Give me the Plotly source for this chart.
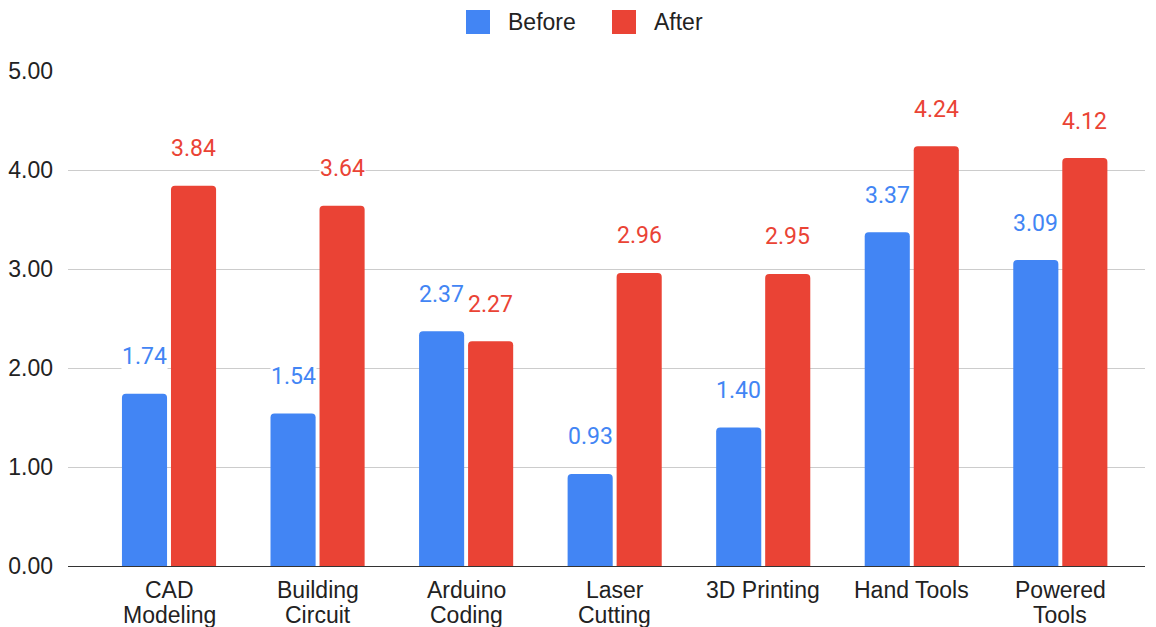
import plotly.graph_objects as go

categories = ["CAD<br>Modeling", "Building<br>Circuit", "Arduino<br>Coding", "Laser<br>Cutting",
              "3D Printing", "Hand Tools", "Powered<br>Tools"]
before = [1.74, 1.54, 2.37, 0.93, 1.40, 3.37, 3.09]
after = [3.84, 3.64, 2.27, 2.96, 2.95, 4.24, 4.12]
series_names = ["Before", "After"]
y_ticks = [0, 1, 2, 3, 4, 5]

BLUE = "#4285F4"
RED = "#EA4335"
AX_FONT = "Liberation Sans, Arial, sans-serif"
LBL_FONT = "Roboto"
AX_FS = 23
LBL_FS = 23
TXT = "#222222"

W, H = 1156, 627
ML, MR, MT, MB = 68, 11, 71, 61
PW = W - ML - MR
PH = H - MT - MB

fig = go.Figure()
for name, vals, col in [(series_names[0], before, BLUE), (series_names[1], after, RED)]:
    fig.add_trace(go.Bar(name=name, x=categories, y=vals, marker_color=col,
                         marker_line_width=0, showlegend=False))

# value labels with white background
shift = 24.5
for vals, col, xs in [(before, BLUE, -shift), (after, RED, shift)]:
    for c, v in zip(categories, vals):
        fig.add_annotation(x=c, y=v, text=f"{v:.2f}", showarrow=False, xshift=xs, yshift=37,
                           yanchor="middle", bgcolor="white", borderpad=0,
                           font=dict(family=LBL_FONT, size=LBL_FS, color=col))

# category labels (two lines with tighter spacing)
for c in categories:
    for i, line in enumerate(c.split("<br>")):
        fig.add_annotation(x=c, y=0, text=line, showarrow=False, yanchor="middle",
                           yshift=-24 - 25 * i,
                           font=dict(family=AX_FONT, size=AX_FS, color=TXT))

# custom legend
def px_to_paper_x(px):
    return (px - ML) / PW

def px_to_paper_y(py):
    return (MT + PH - py) / PH

legend_items = [(series_names[0], BLUE, 466), (series_names[1], RED, 612)]
for name, col, x0 in legend_items:
    fig.add_shape(type="rect", xref="paper", yref="paper",
                  x0=px_to_paper_x(x0), x1=px_to_paper_x(x0 + 24),
                  y0=px_to_paper_y(34), y1=px_to_paper_y(10),
                  fillcolor=col, line_width=0, layer="above")
    fig.add_annotation(xref="paper", yref="paper", x=px_to_paper_x(x0 + 40), y=px_to_paper_y(22),
                       text=name, showarrow=False, xanchor="left", yanchor="middle",
                       font=dict(family=AX_FONT, size=AX_FS, color=TXT))

fig.update_layout(
    width=W, height=H,
    margin=dict(l=ML, r=MR, t=MT, b=MB, pad=0, autoexpand=False),
    paper_bgcolor="white", plot_bgcolor="white",
    barmode="group", bargap=0.34, bargroupgap=0.08, barcornerradius=4,
    font=dict(family=AX_FONT, size=AX_FS, color=TXT),
    showlegend=False,
)
fig.update_xaxes(range=[-0.68, 6.57], showgrid=False, showline=False, ticks="",
                 showticklabels=False, automargin=False)
fig.update_yaxes(range=[0, 5], tickvals=y_ticks, tickformat=".2f", showgrid=True,
                 gridcolor="#CCCCCC", gridwidth=1, zeroline=True, zerolinecolor="#333333",
                 zerolinewidth=1, showline=False, ticks="", ticklabelstandoff=14,
                 automargin=False,
                 tickfont=dict(family=AX_FONT, size=AX_FS, color=TXT))

fig.write_html("out.html")
